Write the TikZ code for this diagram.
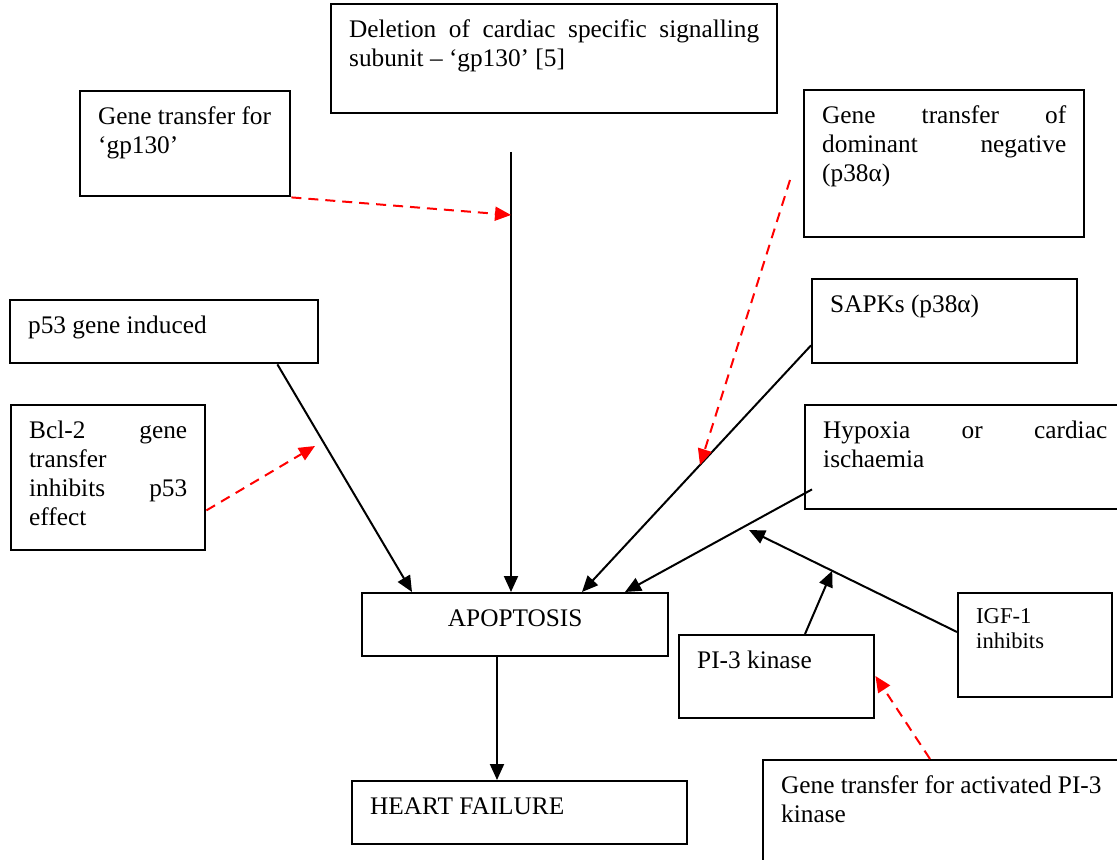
\documentclass[tikz,border=0pt]{standalone}
\usepackage{fontspec}
\setmainfont{Liberation Serif}
\usetikzlibrary{arrows.meta,calc}
\newdimen\unitpx
\unitpx=0.5pt
\newcommand{\mechbox}[7][]{
    \node[mech,#1] (#2) at (#3,#4)
    {\begin{minipage}[t][\dimexpr#6\unitpx-12.6pt\relax][t]{\dimexpr#5\unitpx-18pt\relax}\strut#7\end{minipage}};
}
\tikzset{
    mech/.style={draw, line width=1.2pt, anchor=north west, inner xsep=9pt, inner ysep=6.3pt,
        font=\fontsize{12.65}{14.5}\selectfont},
    small/.style={font=\fontsize{11.3}{12.6}\selectfont},
    leads/.style={-{Triangle[length=8pt,width=7pt]}, line width=1pt},
    blocks/.style={leads, red, dash pattern=on 5pt off 3.5pt},
}

\begin{document}
\begin{tikzpicture}[x=0.5pt, y=-0.5pt]
    \useasboundingbox (0,0) rectangle (1117,860);
    \clip (0,0) rectangle (1117,860);
    \mechbox{deletion}{330}{3}{446}{109}{Deletion\hfill of\hfill cardiac\hfill specific\hfill signalling\\ subunit – ‘gp130’ [5]}
    \mechbox{gptransfer}{79}{90}{210}{105}{Gene transfer for\\ ‘gp130’}
    \mechbox{dominant}{803}{89}{280}{147}{Gene\hfill transfer\hfill of\\ dominant\hfill negative\\ (p38α)}
    \mechbox{sapks}{811}{278}{265}{84}{SAPKs (p38α)}
    \mechbox{p53}{9}{299}{308}{63}{p53 gene induced}
    \mechbox{bcl}{10}{404}{194}{145}{Bcl-2\hfill gene\\ transfer\\ inhibits\hfill p53\\ effect}
    \mechbox{hypoxia}{804}{404}{320}{104}{Hypoxia\hfill or\hfill cardiac\\ ischaemia}
    \mechbox[small]{igf}{957}{592}{154}{104}{IGF-1\\ inhibits}
    \mechbox{pikinase}{678}{634}{195}{83}{PI-3 kinase}
    \mechbox{apoptosis}{361}{592}{306}{63}{\centering APOPTOSIS}
    \mechbox{heart}{351}{780}{335}{63}{HEART FAILURE}
    \mechbox{activated}{762}{759}{380}{130}{Gene transfer for activated PI-3\\ kinase}

    \coordinate (delfoot) at (511,152);
    \coordinate (gphit) at (511,215);
    \coordinate (bcltip) at (315,446);
    \coordinate (domtail) at (790,180);
    \coordinate (domtip) at (700,465);
    \coordinate (igfstart) at ($(igf.north west)+(0,40)$);
    \coordinate (igftip) at (749,530);
    \coordinate (pitip) at ($(igfstart)!0.6!(igftip)$);

    % promoting paths
    \draw[leads] (delfoot) -- (delfoot |- apoptosis.north);
    \draw[leads] ($(p53.south east)+(-42,0)$) -- ($(apoptosis.north west)+(51,0)$);
    \draw[leads] ($(sapks.south west)+(0,-19)$) -- ($(apoptosis.north west)+(221,0)$);
    \draw[leads] ($(hypoxia.south west)+(8,-21)$) -- ($(apoptosis.north west)+(264,0)$);
    \draw[leads] (igfstart) -- (igftip);
    \draw[leads] ($(pikinase.north west)+(127,0)$) -- (pitip);
    \draw[leads] ($(apoptosis.south west)+(136,0)$) -- ($(heart.north west)+(146,0)$);
    % gene transfers
    \draw[blocks] (gptransfer.south east) -- (gphit);
    \draw[blocks] ($(bcl.south east)+(0,-41)$) -- (bcltip);
    \draw[blocks] (domtail) -- (domtip);
    \draw[blocks] ($(activated.north west)+(168,0)$) -- ($(pikinase.north east)+(0,42)$);
\end{tikzpicture}
\end{document}
